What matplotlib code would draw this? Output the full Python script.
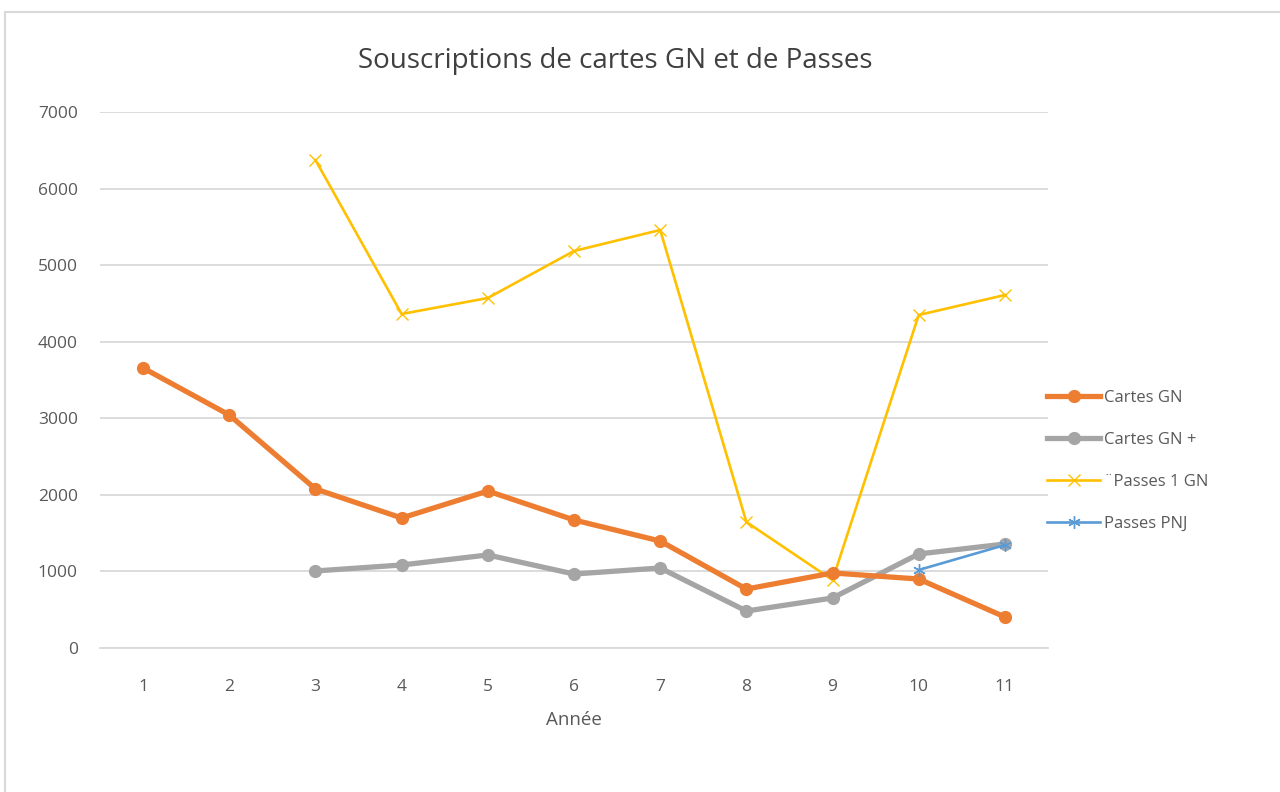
import matplotlib
matplotlib.use("Agg")
import matplotlib.pyplot as plt
from matplotlib.patches import Rectangle
import numpy as np

years = [1, 2, 3, 4, 5, 6, 7, 8, 9, 10, 11]
cartes_gn = [3657, 3043, 2077, 1698, 2050, 1672, 1397, 770, 980, 901, 405]
cartes_gn_plus = [None, None, 1006, 1084, 1215, 966, 1045, 483, 653, 1228, 1358]
passes_1gn = [None, None, 6373, 4362, 4571, 5185, 5459, 1646, 888, 4349, 4610]
passes_pnj = [None, None, None, None, None, None, None, None, None, 1019, 1345]

def arr(v):
    return np.array([np.nan if x is None else x for x in v], dtype=float)

plt.rcParams['font.family'] = ['Open Sans', 'DejaVu Sans']

fig = plt.figure(figsize=(12.8, 7.92), dpi=100)
fig.patches.append(Rectangle((5/1280, -0.01), 1.0, 1.01 - 12/792, transform=fig.transFigure,
                             fill=False, edgecolor='#d9d9d9', linewidth=1.5))
ax = fig.add_axes([100/1280, 1 - 648/792, (1048-100)/1280, (648-112)/792])

ax.plot(years, arr(cartes_gn), color='#ED7D31', lw=3.8, marker='o', ms=8.5, label='Cartes GN', zorder=4)
ax.plot(years, arr(cartes_gn_plus), color='#A5A5A5', lw=3.8, marker='o', ms=8.5, label='Cartes GN +', zorder=3)
ax.plot(years, arr(passes_1gn), color='#FFC000', lw=1.9, marker='x', ms=9, mew=1.0, label='¨Passes 1 GN', zorder=2)
ax.plot(years, arr(passes_pnj), color='#5B9BD5', lw=1.9, marker=(6, 2, 0), ms=9, mew=1.0, label='Passes PNJ', zorder=5)

ax.set_xlim(0.5, 11.5)
ax.set_ylim(0, 7000)
ax.set_yticks(range(0, 7001, 1000))
ax.set_xticks(years)
ax.grid(axis='y', color='#d9d9d9', lw=1.3)
ax.set_axisbelow(True)
for s in ['top', 'right', 'left']:
    ax.spines[s].set_visible(False)
ax.spines['bottom'].set_color('#d9d9d9')
ax.spines['bottom'].set_linewidth(1.3)
ax.tick_params(axis='x', length=0, labelsize=12.5, colors='#595959', pad=22)
ax.tick_params(axis='y', length=0, labelsize=12.5, colors='#595959', pad=16)
ax.set_xlabel('Année', fontsize=13.5, color='#595959', labelpad=12)

fig.text(615/1280, 1 - 61/792, 'Souscriptions de cartes GN et de Passes', ha='center', va='center',
         fontsize=20, color='#404040')

leg = ax.legend(loc='center left', bbox_to_anchor=(1032/1280, 1 - 461/792), bbox_transform=fig.transFigure,
                frameon=False, fontsize=12, labelcolor='#595959', handlelength=3.2, labelspacing=1.55,
                handletextpad=0.2)

fig.savefig('out.png', dpi=100)
